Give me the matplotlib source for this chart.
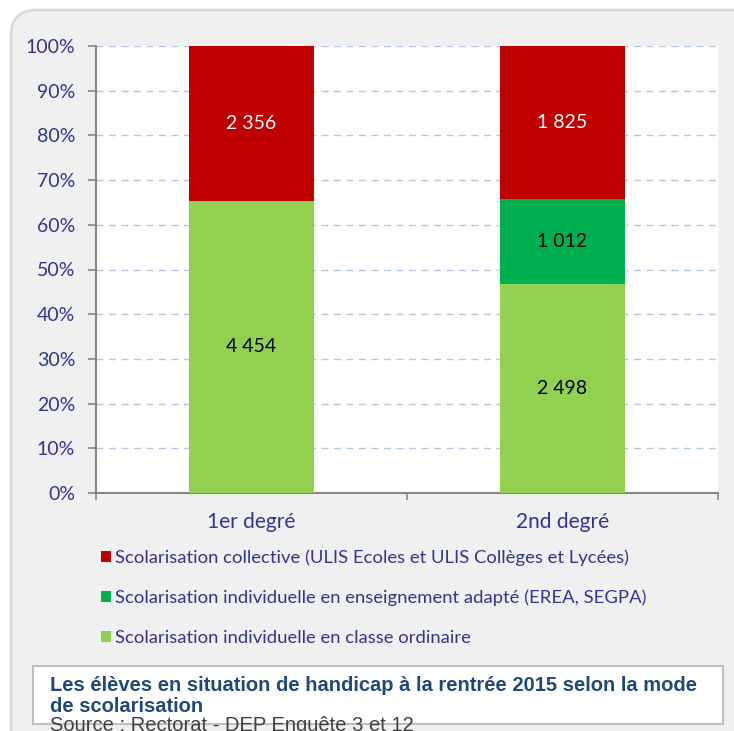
import numpy as np
import matplotlib
matplotlib.use("Agg")
from matplotlib import pyplot as plt
from matplotlib.patches import FancyBboxPatch, Rectangle
from matplotlib.ticker import PercentFormatter

# Data
categories = ["1er degré", "2nd degré"]
series_names = [
    "Scolarisation individuelle en classe ordinaire",
    "Scolarisation individuelle en enseignement adapté (EREA, SEGPA)",
    "Scolarisation collective (ULIS Ecoles et ULIS Collèges et Lycées)",
]
ordinaire = [4454, 2498]
adapte = [0, 1012]
collective = [2356, 1825]
series_colors = ["#92D050", "#00B050", "#C00000"]
label_colors = ["black", "black", "white"]

caption_title = "Les élèves en situation de handicap à la rentrée 2015 selon la mode\nde scolarisation"
caption_source = "Source : Rectorat - DEP Enquête 3 et 12"

text_blue = "#333399"
W, H = 734, 731

plt.rcParams["font.family"] = ["Lato", "DejaVu Sans"]

fig = plt.figure(figsize=(W / 100, H / 100), dpi=100, facecolor="white")

# Grey panel behind everything
panel = FancyBboxPatch((11 / W, -0.05), 1.2, 1 - 10 / H + 0.05,
                       boxstyle="round,pad=0,rounding_size=0.035",
                       transform=fig.transFigure, facecolor="#f0f0f0",
                       edgecolor="#d9d9d9", linewidth=2, zorder=-5)
fig.patches.append(panel)

ax = fig.add_axes([96 / W, 1 - 493 / H, 622 / W, 447 / H])
ax.set_zorder(2)
ax.set_facecolor("white")

values = np.array([ordinaire, adapte, collective], dtype=float)
totals = values.sum(axis=0)
shares = values / totals * 100

x = np.arange(len(categories)) + 0.5
bottom = np.zeros(len(categories))
for name, raw, share, col, lcol in zip(series_names, values, shares, series_colors, label_colors):
    bars = ax.bar(x, share, width=0.4, bottom=bottom, color=col, label=name, zorder=3)
    for xi, b, s, r in zip(x, bottom, share, raw):
        if r > 0:
            ax.text(xi, b + s / 2, f"{int(r):,}".replace(",", " "), ha="center", va="center",
                    color=lcol, fontsize=14, zorder=4)
    bottom += share

ax.set_xlim(0, 2)
ax.set_ylim(0, 100)
ax.set_yticks(np.arange(0, 101, 10))
ax.yaxis.set_major_formatter(PercentFormatter(decimals=0))
ax.set_xticks([0, 1, 2])
ax.set_xticklabels([])
ax.set_xticks(x, minor=True)
ax.set_xticklabels(categories, minor=True)
ax.tick_params(axis="x", which="minor", length=0, pad=14, labelsize=15, labelcolor=text_blue)
ax.tick_params(axis="x", which="major", length=5, color="#868686", width=1.2)
ax.tick_params(axis="y", length=6, color="#868686", width=1.2, labelsize=14,
               labelcolor=text_blue, pad=9)

ax.grid(axis="y", color="#b4c7e7", linestyle=(0, (5, 4)), linewidth=1, zorder=1)
for side in ["top", "right"]:
    ax.spines[side].set_visible(False)
for side in ["left", "bottom"]:
    ax.spines[side].set_color("#868686")
    ax.spines[side].set_linewidth(1.5)

# Legend (top entry = last series)
handles, labels = ax.get_legend_handles_labels()
fig.legend(handles[::-1], labels[::-1], loc="upper left",
           bbox_to_anchor=(84 / W, 1 - 533 / H), frameon=False,
           handlelength=0.55, handleheight=0.55, handletextpad=0.25,
           labelspacing=1.28, fontsize=13.3, labelcolor=text_blue)

# Caption box
cap = Rectangle((33 / W, 1 - 724 / H), 690 / W, 58 / H, transform=fig.transFigure,
                facecolor="white", edgecolor="#bfbfbf", linewidth=1.5, zorder=1)
fig.patches.append(cap)
fig.text(50 / W, 1 - 676 / H, caption_title, ha="left", va="top",
         family="Liberation Sans", fontweight="bold", fontsize=14.5,
         color="#1F497D", linespacing=1.1, zorder=2)
fig.text(50 / W, 1 - 716 / H, caption_source, ha="left", va="top",
         family="Liberation Sans", fontsize=14.5, color="#404040", zorder=2)

fig.savefig("out.png", dpi=100, facecolor="white")
